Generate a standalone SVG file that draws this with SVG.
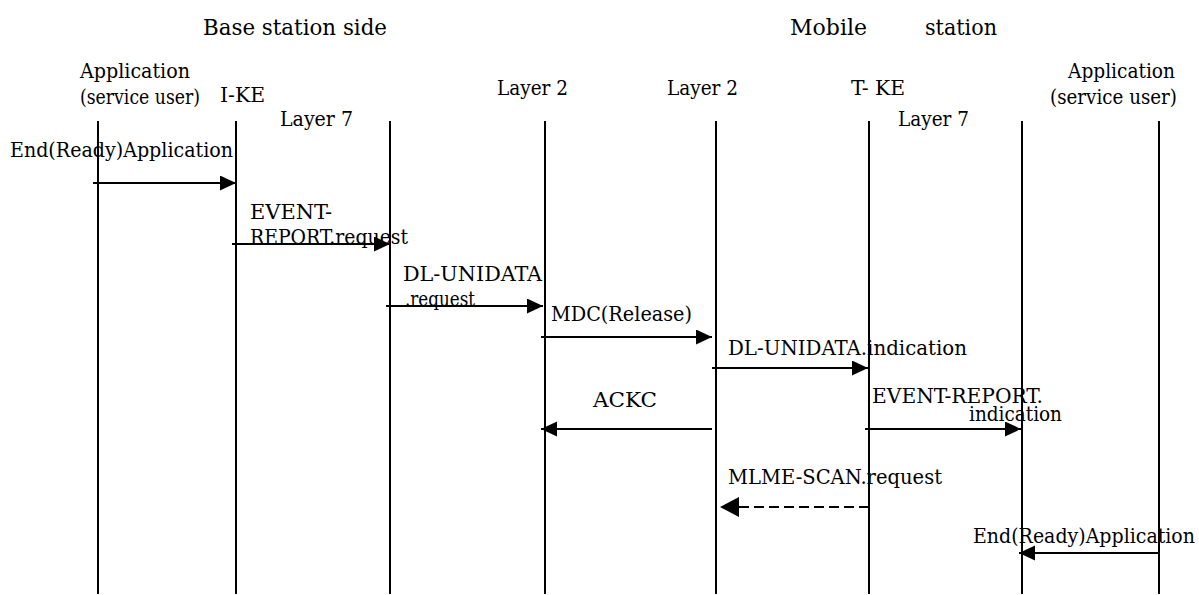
<svg xmlns="http://www.w3.org/2000/svg" width="1199" height="595" viewBox="0 0 1199 595">
<style>
text{font-family:"DejaVu Serif Condensed","DejaVu Serif","Liberation Serif",serif;font-size:20.5px;fill:#000}
.hd{font-size:23px}
.life{stroke:#000;stroke-width:2}
.msg{stroke:#000;stroke-width:2;fill:none;marker-end:url(#ah)}
.dash{stroke-dasharray:10 5;marker-end:url(#ahb)}
</style>
<defs>
<marker id="ah" markerUnits="userSpaceOnUse" markerWidth="17" markerHeight="16" refX="16" refY="7.5" orient="auto"><path d="M0,0 L16,7.5 L0,15 z" fill="#000"/></marker>
<marker id="ahb" markerUnits="userSpaceOnUse" markerWidth="20" markerHeight="21" refX="19" refY="10" orient="auto"><path d="M0,0 L19,10 L0,20 z" fill="#000"/></marker>
</defs>
<rect width="1199" height="595" fill="#fff"/>
<g id="headers">
<text class="hd" x="203" y="35" textLength="184" lengthAdjust="spacingAndGlyphs">Base station side</text>
<text class="hd" x="790" y="35" textLength="77" lengthAdjust="spacingAndGlyphs">Mobile</text>
<text class="hd" x="925" y="35" textLength="72" lengthAdjust="spacingAndGlyphs">station</text>
</g>
<g id="app-left"><line class="life" x1="98" y1="121" x2="98" y2="594"/>
<text x="80" y="78" textLength="110" lengthAdjust="spacingAndGlyphs">Application</text>
<text x="80" y="104" textLength="120" lengthAdjust="spacingAndGlyphs">(service user)</text></g>
<g id="ike"><line class="life" x1="236" y1="121" x2="236" y2="594"/>
<text x="220" y="102" textLength="45" lengthAdjust="spacingAndGlyphs">I-KE</text></g>
<g id="layer7-left"><line class="life" x1="390" y1="121" x2="390" y2="594"/>
<text x="280" y="126" textLength="73" lengthAdjust="spacingAndGlyphs">Layer 7</text></g>
<g id="layer2-bs"><line class="life" x1="545" y1="121" x2="545" y2="594"/>
<text x="497" y="95" textLength="71" lengthAdjust="spacingAndGlyphs">Layer 2</text></g>
<g id="layer2-ms"><line class="life" x1="716" y1="121" x2="716" y2="594"/>
<text x="667" y="95" textLength="71" lengthAdjust="spacingAndGlyphs">Layer 2</text></g>
<g id="tke"><line class="life" x1="869" y1="121" x2="869" y2="594"/>
<text x="851" y="95" textLength="54" lengthAdjust="spacingAndGlyphs">T- KE</text></g>
<g id="layer7-right"><line class="life" x1="1022" y1="121" x2="1022" y2="594"/>
<text x="898" y="126" textLength="71" lengthAdjust="spacingAndGlyphs">Layer 7</text></g>
<g id="app-right"><line class="life" x1="1159" y1="121" x2="1159" y2="594"/>
<text x="1068" y="78" textLength="107" lengthAdjust="spacingAndGlyphs">Application</text>
<text x="1050" y="104" textLength="127" lengthAdjust="spacingAndGlyphs">(service user)</text></g>
<g id="connectors">
<line class="msg" x1="93" y1="183" x2="236" y2="183"/>
<line class="msg" x1="232" y1="244" x2="390" y2="244"/>
<line class="msg" x1="386" y1="306" x2="543" y2="306"/>
<line class="msg" x1="541" y1="337" x2="712" y2="337"/>
<line class="msg" x1="712" y1="368" x2="868" y2="368"/>
<line class="msg" x1="712" y1="429" x2="541" y2="429"/>
<line class="msg" x1="865" y1="429" x2="1021" y2="429"/>
<line class="msg dash" x1="869" y1="507" x2="720" y2="507"/>
<line class="msg" x1="1159" y1="553" x2="1019" y2="553"/>
</g>
<g id="labels">
<text x="10" y="157" textLength="223" lengthAdjust="spacingAndGlyphs">End(Ready)Application</text>
<text x="250" y="219" textLength="82" lengthAdjust="spacingAndGlyphs">EVENT-</text>
<text x="250" y="244" textLength="158" lengthAdjust="spacingAndGlyphs">REPORT.request</text>
<text x="403" y="281" textLength="139" lengthAdjust="spacingAndGlyphs">DL-UNIDATA</text>
<text x="405" y="306" textLength="70" lengthAdjust="spacingAndGlyphs">.request</text>
<text x="551" y="321" textLength="141" lengthAdjust="spacingAndGlyphs">MDC(Release)</text>
<text x="728" y="355" textLength="239" lengthAdjust="spacingAndGlyphs">DL-UNIDATA.indication</text>
<text x="593" y="407" textLength="64" lengthAdjust="spacingAndGlyphs">ACKC</text>
<text x="872" y="403" textLength="171" lengthAdjust="spacingAndGlyphs">EVENT-REPORT.</text>
<text x="969" y="421" textLength="93" lengthAdjust="spacingAndGlyphs">indication</text>
<text x="728" y="484" textLength="214" lengthAdjust="spacingAndGlyphs">MLME-SCAN.request</text>
<text x="973" y="543" textLength="222" lengthAdjust="spacingAndGlyphs">End(Ready)Application</text>
</g>
</svg>
